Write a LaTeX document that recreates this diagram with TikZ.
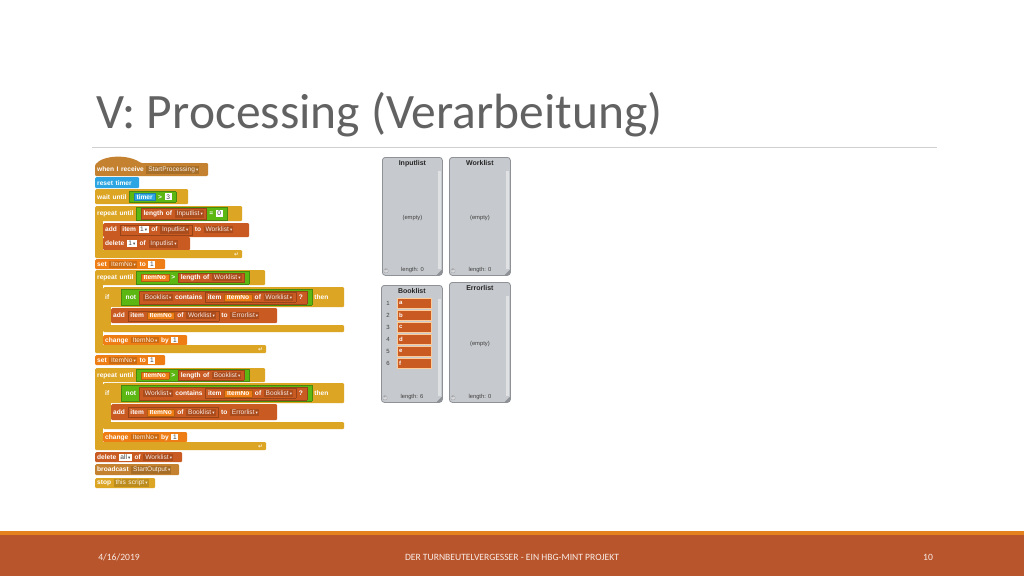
\documentclass[tikz,border=0pt]{standalone}
\usepackage{fontspec}
\setmainfont{Carlito}
\newfontfamily\blockfont{Liberation Sans}
\newfontfamily\symfont{DejaVu Sans}
\usetikzlibrary{positioning,arrows.meta}
\definecolor{evc}{HTML}{C4812F}
\definecolor{ctc}{HTML}{DDA524}
\definecolor{snc}{HTML}{2CA5E2}
\definecolor{opc}{HTML}{5CB712}
\definecolor{vrc}{HTML}{EE7D16}
\definecolor{lsc}{HTML}{C95A22}
\definecolor{lbg}{HTML}{C6C9CD}
\definecolor{lbd}{HTML}{8E9196}
\definecolor{titc}{HTML}{626262}
\definecolor{rulec}{HTML}{CFCFCF}
\definecolor{footo}{HTML}{E4821E}
\definecolor{footr}{HTML}{B9552C}
\newcommand{\dar}{\,{\symfont\fontsize{4.5}{4}\selectfont ▾}}
\newcommand{\drop}[2]{{\fboxsep=1.1pt\colorbox{#1!85!black}{\mdseries\textcolor{white!85!#1}{\hspace{0.8pt}#2\dar}}}}
\newcommand{\numin}[1]{{\fboxsep=1.1pt\colorbox{white}{\mdseries\textcolor{black!75}{\hspace{0.5pt}#1\hspace{0.5pt}}}}}
\newcommand{\repo}[2]{{\fboxsep=1.1pt\fboxrule=0.3pt\fcolorbox{#1!75!black}{#1}{\hspace{1.5pt}#2\hspace{1.5pt}}}}
\newcommand{\boolb}[2]{{\fboxsep=1.2pt\fboxrule=0.3pt\fcolorbox{#1!75!black}{#1}{\hspace{3pt}#2\hspace{3pt}}}}

\begin{document}
\begin{tikzpicture}[x=1pt,y=-1pt,
    blk/.style={anchor=north west, inner xsep=2pt, inner ysep=0pt, rounded corners=1.2pt,
      text=white, align=left, font=\blockfont\bfseries\fontsize{6.6}{8}\selectfont,
      execute at begin node={\hbox\bgroup\spaceskip=2.6pt\relax}, execute at end node={\egroup}},
    lpanel/.style={draw=lbd, fill=lbg, line width=0.8pt, rounded corners=3pt,
      anchor=north west, inner sep=0pt},
    ltitle/.style={font=\blockfont\bfseries\fontsize{7}{8}\selectfont, text=black!85, inner sep=0pt},
    ltext/.style={font=\blockfont\fontsize{5.8}{7}\selectfont, text=black!75, inner sep=0pt},
    cell/.style={anchor=north west, fill=lsc, draw=orange!40, line width=0.4pt, minimum width=34pt,
      minimum height=10pt, inner sep=1.5pt, text width=30pt, align=left, text=white,
      font=\blockfont\bfseries\fontsize{6}{7}\selectfont},
    foot/.style={font=\fontsize{9.6}{10}\selectfont, text=white!88!footr, inner sep=0pt}]
  \useasboundingbox (0,0) rectangle (1024,576);
  \fill[white] (0,0) rectangle (1024,576);

  \node[anchor=base west, inner sep=0pt, text=titc, font=\fontsize{49.5}{50}\selectfont] (title)
    at (96,128) {V: Processing (Verarbeitung)};
  \draw[rulec, line width=0.8pt] (92,147) -- (937,147);

  \fill[evc, rounded corners=1.2pt] (95,176) -- (95,165) .. controls (103,155) and (128,154) .. (141,163)
    -- (208,163) -- (208,176) -- cycle;
  \node[blk, text width=109pt, minimum height=13pt] (hat) at (95,163) {when I receive \drop{evc}{StartProcessing}};
  \node[blk, fill=snc, text width=40pt, minimum height=11pt] (reset) at (95,177) {reset timer};
  \node[blk, fill=ctc, text width=89pt, minimum height=15pt] (wait) at (95,189)
    {wait until \boolb{opc}{\repo{snc}{timer} > \numin{3}}};

  \node[blk, fill=ctc, text width=143pt, minimum height=15pt] (rep1) at (95,206)
    {repeat until \boolb{opc}{\repo{lsc}{length of \drop{lsc}{Inputlist}} = \numin{0}}};
  \node[blk, fill=lsc, text width=142pt, minimum height=14pt] (add1) at (103,223)
    {add \repo{lsc}{item \numin{1\dar} of \drop{lsc}{Inputlist}} to \drop{lsc}{Worklist}};
  \node[blk, fill=lsc, text width=83pt, minimum height=13pt] (del1) at (103,237)
    {delete \numin{1\dar} of \drop{lsc}{Inputlist}};
  \node[blk, fill=ctc, text width=143pt, minimum height=8pt] (end1) at (95,250) {};
  \fill[ctc] ([yshift=2pt]rep1.south west) rectangle ([xshift=8pt,yshift=-2pt]end1.north west);

  \node[blk, fill=vrc, text width=66pt, minimum height=10pt] (set1) at (95,259) {set \drop{vrc}{ItemNo} to \numin{1}};

  \node[blk, fill=ctc, text width=166pt, minimum height=15pt] (rep2) at (95,270)
    {repeat until \boolb{opc}{\repo{vrc}{ItemNo} > \repo{lsc}{length of \drop{lsc}{Worklist}}}};
  \node[blk, fill=ctc, text width=237pt, minimum height=20pt] (if1) at (103,287)
    {if\hspace{12pt}\boolb{opc}{not \boolb{lsc}{\drop{lsc}{Booklist} contains \repo{lsc}{item \repo{vrc}{ItemNo} of \drop{lsc}{Worklist}} ?}} then};
  \node[blk, fill=lsc, text width=162pt, minimum height=15pt] (add2) at (111,308)
    {add \repo{lsc}{item \repo{vrc}{ItemNo} of \drop{lsc}{Worklist}} to \drop{lsc}{Errorlist}};
  \node[blk, fill=ctc, text width=237pt, minimum height=7pt] (fi1) at (103,325) {};
  \fill[ctc] ([yshift=2pt]if1.south west) rectangle ([xshift=8pt,yshift=-2pt]fi1.north west);
  \node[blk, fill=vrc, text width=80pt, minimum height=10pt] (chg1) at (103,335) {change \drop{vrc}{ItemNo} by \numin{1}};
  \node[blk, fill=ctc, text width=167pt, minimum height=8pt] (end2) at (95,345) {};
  \fill[ctc] ([yshift=2pt]rep2.south west) rectangle ([xshift=8pt,yshift=-2pt]end2.north west);

  \node[blk, fill=vrc, text width=66pt, minimum height=10pt] (set2) at (95,355) {set \drop{vrc}{ItemNo} to \numin{1}};

  \node[blk, fill=ctc, text width=166pt, minimum height=14pt] (rep3) at (95,368)
    {repeat until \boolb{opc}{\repo{vrc}{ItemNo} > \repo{lsc}{length of \drop{lsc}{Booklist}}}};
  \node[blk, fill=ctc, text width=237pt, minimum height=20pt] (if2) at (103,383)
    {if\hspace{12pt}\boolb{opc}{not \boolb{lsc}{\drop{lsc}{Worklist} contains \repo{lsc}{item \repo{vrc}{ItemNo} of \drop{lsc}{Booklist}} ?}} then};
  \node[blk, fill=lsc, text width=162pt, minimum height=16pt] (add3) at (111,404)
    {add \repo{lsc}{item \repo{vrc}{ItemNo} of \drop{lsc}{Booklist}} to \drop{lsc}{Errorlist}};
  \node[blk, fill=ctc, text width=237pt, minimum height=7pt] (fi2) at (103,422) {};
  \fill[ctc] ([yshift=2pt]if2.south west) rectangle ([xshift=8pt,yshift=-2pt]fi2.north west);
  \node[blk, fill=vrc, text width=80pt, minimum height=10pt] (chg2) at (103,432) {change \drop{vrc}{ItemNo} by \numin{1}};
  \node[blk, fill=ctc, text width=167pt, minimum height=8pt] (end3) at (95,442) {};
  \fill[ctc] ([yshift=2pt]rep3.south west) rectangle ([xshift=8pt,yshift=-2pt]end3.north west);

  \foreach \e in {end1,end2,end3}
    \node[text=white, inner sep=0pt, font=\symfont\fontsize{6}{6}\selectfont, anchor=east] at ([xshift=-3pt]\e.east) {↵};

  \node[blk, fill=lsc, text width=83pt, minimum height=10pt] (delall) at (95,452)
    {delete \numin{all\dar} of \drop{lsc}{Worklist}};
  \node[blk, fill=evc, text width=80pt, minimum height=11pt] (bcast) at (95,464) {broadcast \drop{evc}{StartOutput}};
  \node[blk, fill=ctc, text width=56pt, minimum height=10pt] (stop) at (95,478) {stop \drop{ctc}{this script}};

  \node[lpanel, minimum width=60pt, minimum height=118pt] (inlist) at (382,157) {};
  \node[lpanel, minimum width=61pt, minimum height=118pt] (wlist) at (449,157) {};
  \node[lpanel, minimum width=61pt, minimum height=117pt] (blist) at (381,285) {};
  \node[lpanel, minimum width=61pt, minimum height=120pt] (elist) at (449,282) {};
  \foreach \l/\t/\n in {inlist/Inputlist/0, wlist/Worklist/0, blist/Booklist/6, elist/Errorlist/0} {
    \fill[lbg!55!white] ([xshift=-5pt,yshift=-14pt]\l.north east) rectangle ([xshift=-1.8pt,yshift=7pt]\l.south east);
    \fill[lbd] ([xshift=-1pt,yshift=1pt]\l.south east) -- ++(-5pt,0) -- ++(5pt,5pt) -- cycle;
    \node[ltitle, below=3pt of \l.north] (\l-title) {\t};
    \node[ltext, above=3pt of \l.south] (\l-len) {length: \n};
    \node[draw=lbd!80, fill=lbg!70!white, circle, inner sep=0pt, minimum size=4.5pt,
      font=\blockfont\fontsize{4}{4}\selectfont, text=black!60] (\l-add) at ([xshift=4pt,yshift=5pt]\l.south west) {+};
  }
  \foreach \l in {inlist,wlist,elist}
    \node[ltext] (\l-empty) at ([yshift=-2pt]\l.center) {(empty)};
  \foreach \i/\t in {1/a,2/b,3/c,4/d,5/e,6/f} {
    \node[ltext, font=\blockfont\fontsize{6}{7}\selectfont] (idx\i) at (388,291+12*\i) {\i};
    \node[cell] (item\i) at (397,286+12*\i) {\t};
  }

  \fill[footo] (0,531) rectangle (1024,535);
  \fill[footr] (0,535) rectangle (1024,576);
  \node[foot] (date) at (119,557) {4/16/2019};
  \node[foot] (proj) at (512,557) {DER TURNBEUTELVERGESSER - EIN HBG-MINT PROJEKT};
  \node[foot] (page) at (928,557) {10};
\end{tikzpicture}
\end{document}
